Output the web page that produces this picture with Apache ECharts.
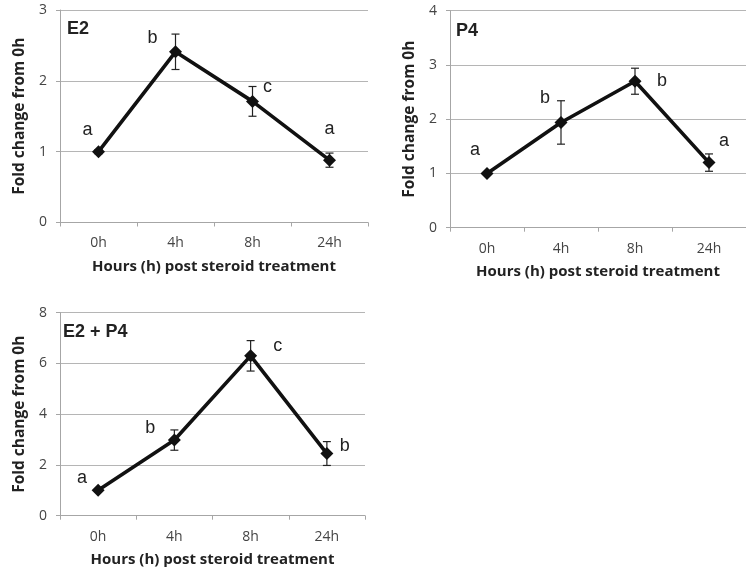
<!DOCTYPE html>
<html>
<head>
<meta charset="utf-8">
<script src="https://cdn.jsdelivr.net/npm/echarts@6/dist/echarts.min.js"></script>
<style>
  html, body { margin: 0; padding: 0; background: #fff; }
  #chart { width: 746px; height: 576px; }
</style>
</head>
<body>
<div id="chart"></div>
<script>
// data
const hours = ['0h', '4h', '8h', '24h']

const e2Mean = [1.0, 2.41, 1.71, 0.88]
const e2Err = [0.03, 0.25, 0.21, 0.1]
const e2Letters = ['a', 'b', 'c', 'a']

const p4Mean = [1.0, 1.94, 2.7, 1.2]
const p4Err = [0.03, 0.4, 0.24, 0.16]
const p4Letters = ['a', 'b', 'b', 'a']

const e2p4Mean = [1.0, 2.98, 6.3, 2.45]
const e2p4Err = [0.05, 0.4, 0.6, 0.47]
const e2p4Letters = ['a', 'b', 'c', 'b']

// pixel offsets of the significance letters from each point
const e2LetterPos = [[-11, -22], [-23, -14], [15, -14], [0, -31]]
const p4LetterPos = [[-12, -23], [-16, -24], [27, 0], [15, -22]]
const e2p4LetterPos = [[-16, -12], [-24, -12], [27, -10], [18, -8]]

const axisColor = '#a6a6a6'
const tickFont = 'Open Sans'
const titleFont = 'Open Sans'

const chart = echarts.init(document.getElementById('chart'))

const makeX = (gridIndex) => ({
  type: 'category',
  gridIndex,
  data: hours,
  axisLine: { lineStyle: { color: axisColor } },
  axisTick: { show: true, length: 4, lineStyle: { color: axisColor } },
  axisLabel: { color: '#444', fontFamily: tickFont, fontSize: 14, margin: 14 },
  name: 'Hours (h) post steroid treatment',
  nameLocation: 'middle',
  nameGap: 37,
  nameTextStyle: { color: '#222', fontFamily: titleFont, fontWeight: 'bold', fontSize: 15 }
})

const makeY = (gridIndex, max, interval) => ({
  type: 'value',
  gridIndex,
  min: 0,
  max,
  interval,
  axisLine: { show: true, lineStyle: { color: axisColor } },
  axisTick: { show: true, length: 4, lineStyle: { color: axisColor } },
  splitLine: { lineStyle: { color: '#b5b5b5' } },
  axisLabel: { color: '#444', fontFamily: tickFont, fontSize: 14, margin: 13 },
  name: 'Fold change from 0h',
  nameLocation: 'middle',
  nameGap: 32,
  nameTextStyle: { color: '#222', fontFamily: titleFont, fontWeight: 'bold', fontSize: 15.5 }
})

const errorBars = (idx, mean, err) => ({
  type: 'custom',
  xAxisIndex: idx,
  yAxisIndex: idx,
  data: mean.map((m, i) => [i, m, err[i]]),
  encode: { x: 0, y: 1 },
  z: 3,
  renderItem: (params, api) => {
    const i = api.value(0)
    const m = api.value(1)
    const e = api.value(2)
    const hi = api.coord([i, m + e])
    const lo = api.coord([i, m - e])
    const w = 4
    const style = { stroke: '#222', lineWidth: 1.2 }
    return {
      type: 'group',
      children: [
        { type: 'line', shape: { x1: hi[0], y1: hi[1], x2: lo[0], y2: lo[1] }, style },
        { type: 'line', shape: { x1: hi[0] - w, y1: hi[1], x2: hi[0] + w, y2: hi[1] }, style },
        { type: 'line', shape: { x1: lo[0] - w, y1: lo[1], x2: lo[0] + w, y2: lo[1] }, style }
      ]
    }
  }
})

const letterMarks = (idx, mean, letters, pos) => ({
  type: 'custom',
  xAxisIndex: idx,
  yAxisIndex: idx,
  data: mean.map((m, i) => [i, m]),
  encode: { x: 0, y: 1 },
  z: 5,
  renderItem: (params, api) => {
    const p = api.coord([api.value(0), api.value(1)])
    const off = pos[params.dataIndex]
    return {
      type: 'text',
      x: p[0] + off[0],
      y: p[1] + off[1],
      style: {
        text: letters[params.dataIndex],
        font: '18px "Liberation Sans"',
        fill: '#222',
        align: 'center',
        verticalAlign: 'middle'
      }
    }
  }
})

const meanLine = (idx, mean) => ({
  type: 'line',
  xAxisIndex: idx,
  yAxisIndex: idx,
  data: mean,
  symbol: 'diamond',
  symbolSize: 13,
  itemStyle: { color: '#111' },
  lineStyle: { color: '#111', width: 3.6 },
  z: 4
})

const option = {
  animation: false,
  grid: [
    { left: 60, top: 10, width: 308, height: 212.5 },
    { left: 450, top: 10.7, width: 306, height: 217 },
    { left: 60, top: 312.7, width: 305, height: 203 }
  ],
  xAxis: [makeX(0), makeX(1), makeX(2)],
  yAxis: [makeY(0, 3, 1), makeY(1, 4, 1), makeY(2, 8, 2)],
  graphic: [
    { type: 'text', x: 67, y: 29, style: { text: 'E2', font: 'bold 18px "Liberation Sans"', fill: '#222', verticalAlign: 'middle' } },
    { type: 'text', x: 456, y: 31, style: { text: 'P4', font: 'bold 18px "Liberation Sans"', fill: '#222', verticalAlign: 'middle' } },
    { type: 'text', x: 63, y: 332, style: { text: 'E2 + P4', font: 'bold 18px "Liberation Sans"', fill: '#222', verticalAlign: 'middle' } }
  ],
  series: [
    errorBars(0, e2Mean, e2Err),
    meanLine(0, e2Mean),
    letterMarks(0, e2Mean, e2Letters, e2LetterPos),
    errorBars(1, p4Mean, p4Err),
    meanLine(1, p4Mean),
    letterMarks(1, p4Mean, p4Letters, p4LetterPos),
    errorBars(2, e2p4Mean, e2p4Err),
    meanLine(2, e2p4Mean),
    letterMarks(2, e2p4Mean, e2p4Letters, e2p4LetterPos)
  ]
}

chart.setOption(option)
</script>
</body>
</html>
